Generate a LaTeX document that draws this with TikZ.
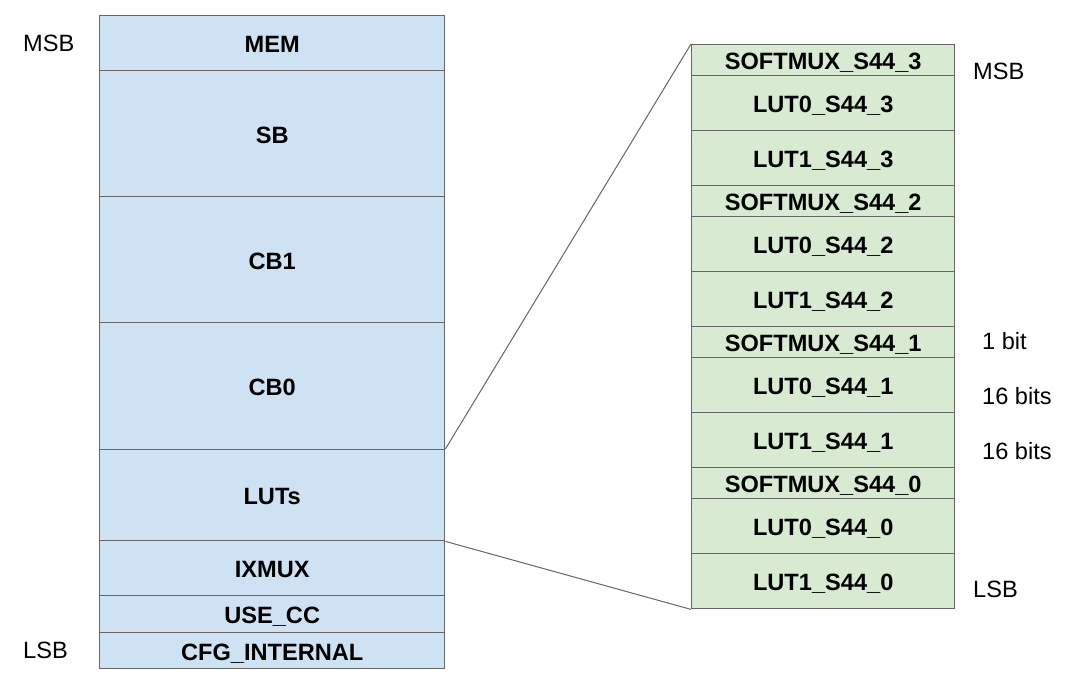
\documentclass[tikz,border=0pt]{standalone}
\usepackage{fontspec}
\setmainfont{Liberation Sans}
\definecolor{lblue}{HTML}{CFE2F3}
\definecolor{lgreen}{HTML}{D9EAD3}
\definecolor{linegray}{HTML}{666666}
\tikzset{
  cell/.style={draw=linegray, line width=1.4pt, rectangle, anchor=north west, inner sep=0pt,
    font=\bfseries\fontsize{23.6}{28}\selectfont, text=black, text height=18.9pt, text depth=0pt},
  lcell/.style={cell, fill=lblue, minimum width=345pt},
  rcell/.style={cell, fill=lgreen, minimum width=263pt},
  thin31/.style={minimum height=31pt},
  tall55/.style={minimum height=55pt},
  side/.style={anchor=west, inner sep=0pt, font=\fontsize{23.6}{28}\selectfont, text height=16.9pt, text depth=0pt},
  link/.style={draw=linegray, line width=1pt}
}
\begin{document}
\begin{tikzpicture}[x=1pt,y=-1pt]
\useasboundingbox[fill=white] (0,0) rectangle (1076,676);
% left stack
\node[lcell, minimum height=55pt]  (mem)  at (99,15)  {MEM};
\node[lcell, minimum height=126pt] (sb)   at (99,70)  {SB};
\node[lcell, minimum height=126pt] (cb1)  at (99,196) {CB1};
\node[lcell, minimum height=127pt] (cb0)  at (99,322) {CB0};
\node[lcell, minimum height=91pt]  (luts) at (99,449) {LUTs};
\node[lcell, minimum height=55pt]  (ixm)  at (99,540) {IXMUX};
\node[lcell, minimum height=37pt]  (ucc)  at (99,595) {USE\_CC};
\node[lcell, minimum height=36pt]  (cfg)  at (99,632) {CFG\_INTERNAL};
% right stack
\node[rcell, thin31] (sm3) at (691,44)  {SOFTMUX\_S44\_3};
\node[rcell, tall55] (la3) at (691,75)  {LUT0\_S44\_3};
\node[rcell, tall55] (lb3) at (691,130) {LUT1\_S44\_3};
\node[rcell, thin31] (sm2) at (691,185) {SOFTMUX\_S44\_2};
\node[rcell, tall55] (la2) at (691,216) {LUT0\_S44\_2};
\node[rcell, tall55] (lb2) at (691,271) {LUT1\_S44\_2};
\node[rcell, thin31] (sm1) at (691,326) {SOFTMUX\_S44\_1};
\node[rcell, tall55] (la1) at (691,357) {LUT0\_S44\_1};
\node[rcell, tall55] (lb1) at (691,412) {LUT1\_S44\_1};
\node[rcell, thin31] (sm0) at (691,467) {SOFTMUX\_S44\_0};
\node[rcell, tall55] (la0) at (691,498) {LUT0\_S44\_0};
\node[rcell, tall55] (lb0) at (691,553) {LUT1\_S44\_0};
% connectors
\draw[link] (luts.north east) -- (sm3.north west);
\draw[link] (luts.south east) -- (lb0.south west);
% side labels
\node[side] (msbl) at (23,43)  {MSB};
\node[side] (lsbl) at (23,650) {LSB};
\node[side] (msbr) at (973,71)  {MSB};
\node[side] (lsbr) at (973,589) {LSB};
\node[side] (bit1) at (982,341) {1 bit};
\node[side] (bit16a) at (982,396) {16 bits};
\node[side] (bit16b) at (982,451) {16 bits};
\end{tikzpicture}
\end{document}
